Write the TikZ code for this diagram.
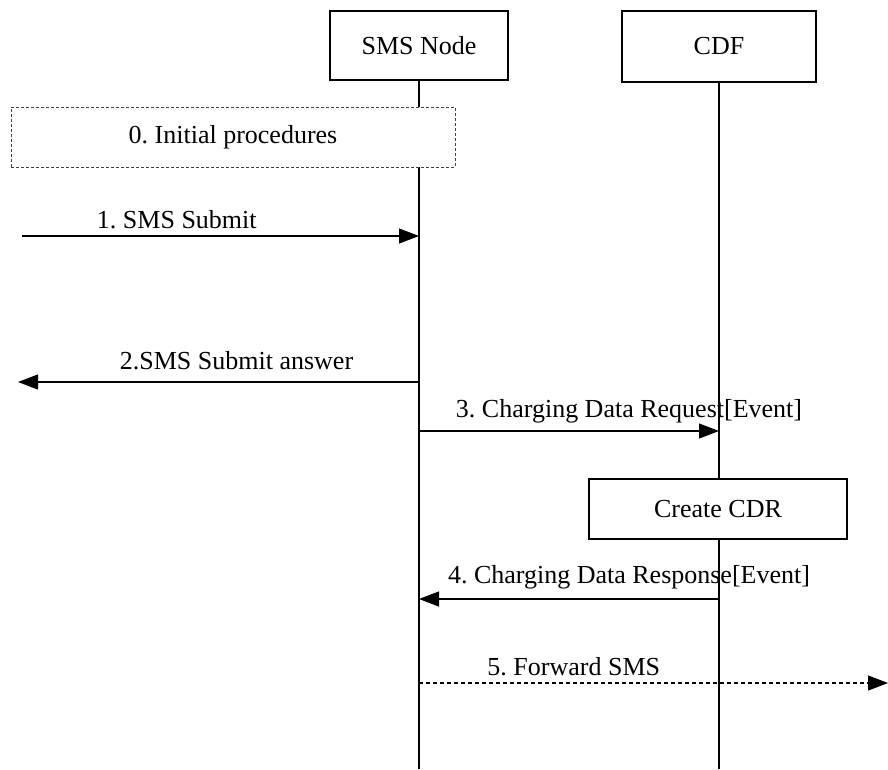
\documentclass[tikz,border=0pt]{standalone}
\usepackage{fontspec}
\setmainfont{Liberation Serif}
\usetikzlibrary{arrows.meta}
\begin{document}
\begin{tikzpicture}[>={Triangle[length=20pt,width=15pt]},x=1pt,y=-1pt,line width=1.1pt,font=\fontsize{26}{30}\selectfont\frenchspacing]
\def\xsms{419}
\def\xcdf{719}
\def\ybot{769}
\tikzset{entity box/.style={draw,fill=white,inner sep=0pt},
  step box/.style={draw,fill=white,inner sep=0pt},
  msg label/.style={anchor=base,inner sep=0pt}}
\useasboundingbox (0,0) rectangle (888,769);
% entities
\node[entity box,minimum width=178pt,minimum height=69pt] (sms) at (\xsms,45.5) {SMS Node};
\node[entity box,minimum width=194pt,minimum height=71pt] (cdf) at (\xcdf,46.5) {CDF};
\coordinate (smsend) at (\xsms,\ybot);
\coordinate (cdfend) at (\xcdf,\ybot);
\draw (sms.south) -- (smsend);
\draw (cdf.south) -- (cdfend);
% boxes on the lifelines
\node[step box,dash pattern=on 3pt off 2pt,line width=0.9pt,draw=black!75,minimum width=444pt,minimum height=60pt] (init) at (233,137) {0. Initial procedures};
\node[step box,minimum width=258pt,minimum height=60pt] (cdr) at (718,509) {Create CDR};
% messages
\coordinate (a1s) at (22,236);
\coordinate (a1e) at (\xsms,236);
\coordinate (a2s) at (\xsms,382);
\coordinate (a2e) at (18,382);
\coordinate (a3s) at (\xsms,431);
\coordinate (a3e) at (\xcdf,431);
\coordinate (a4s) at (\xcdf,599);
\coordinate (a4e) at (\xsms,599);
\coordinate (a5s) at (\xsms,683);
\coordinate (a5e) at (888,683);
\draw[->] (a1s) -- (a1e) node[msg label,pos=0.39,yshift=8pt] {1. SMS Submit};
\draw[->] (a2s) -- (a2e) node[msg label,pos=0.455,yshift=13pt] {2.SMS Submit answer};
\draw[->] (a3s) -- (a3e) node[msg label,pos=0.70,yshift=14pt] {3. Charging Data Request[Event]};
\draw[->] (a4s) -- (a4e) node[msg label,pos=0.30,yshift=16pt] {4. Charging Data Response[Event]};
\draw[->,dash pattern=on 4pt off 3pt] (a5s) -- (a5e) node[msg label,pos=0.33,yshift=8pt] {5. Forward SMS};
\end{tikzpicture}
\end{document}
